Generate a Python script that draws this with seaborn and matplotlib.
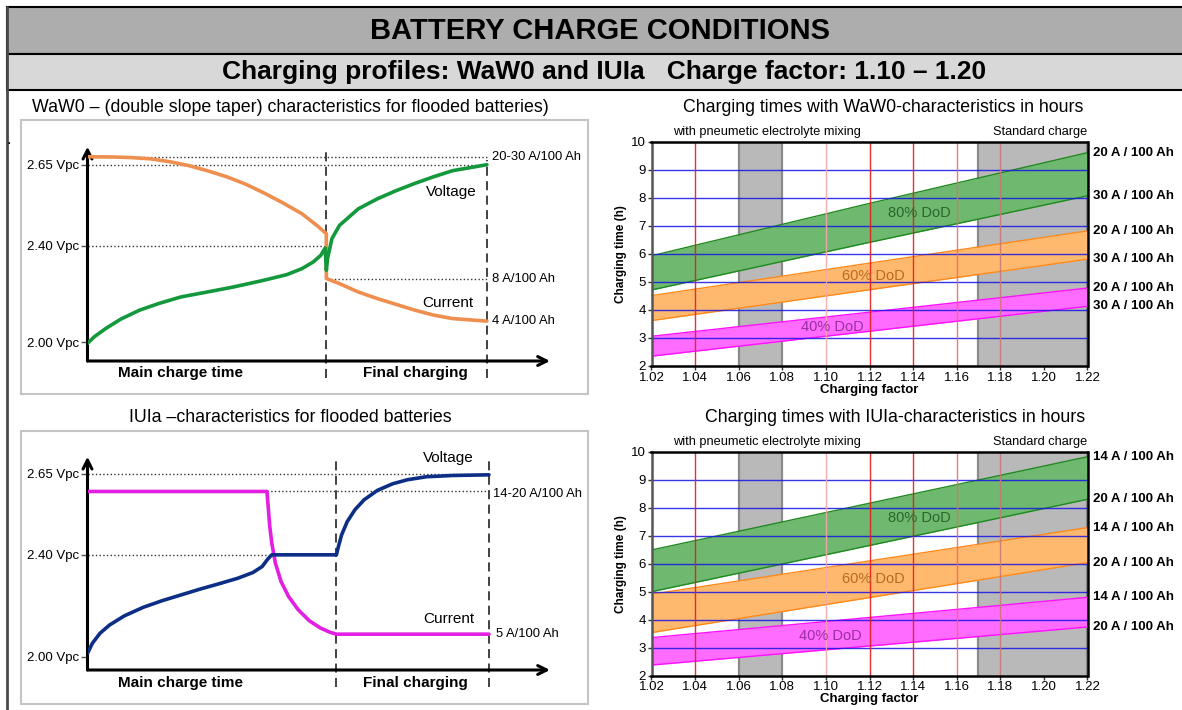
import matplotlib.pyplot as plt
import seaborn as sns
from matplotlib.patches import Rectangle

sns.set_theme(style='white')
plt.rcParams['font.family'] = ['Liberation Sans', 'DejaVu Sans']
plt.rcParams.update({'text.color': 'black', 'axes.labelcolor': 'black',
                     'xtick.color': 'black', 'ytick.color': 'black'})

# ---- schematic curves (time in % of charge, level in % of plot height) ----
waw_t_cur = [0, 6.4, 11.2, 15.9, 20.6, 25.3, 30.0, 34.8, 39.5, 44.2, 48.9, 53.7, 57.4, 59.8,
             59.8, 63.1, 67.8, 72.6, 77.3, 82.0, 86.7, 91.4, 100]
waw_cur = [95.3, 95.2, 94.9, 94.3, 93.0, 91.2, 88.8, 86.0, 82.6, 78.4, 73.8, 68.7, 63.3, 59.4,
           38.5, 36.1, 32.2, 29.1, 26.4, 23.7, 21.4, 19.8, 18.6]
waw_t_volt = [0, 1.7, 4.6, 8.3, 13.0, 17.8, 23.4, 30.0, 36.7, 44.2, 49.9, 53.7, 56.5, 58.4,
              59.5, 59.8, 60.1, 61.2, 63.1, 67.8, 72.6, 77.3, 82.0, 86.7, 91.4, 100]
waw_volt = [8.2, 11.3, 15.2, 19.5, 23.7, 26.8, 29.9, 32.2, 34.6, 37.7, 40.3, 43.1, 46.2, 49.3,
            52.7, 42.3, 47.8, 57.1, 63.3, 71.0, 75.7, 79.5, 82.9, 86.0, 88.8, 91.6]
waw_vpc_levels = [8.8, 53.7, 91.6]

iu_t_cur = [0, 44.7, 45.0, 45.4, 45.9, 46.8, 48.2, 50.1, 52.5, 55.3, 58.1, 60.4, 62, 100]
iu_cur = [83.7, 83.7, 76.7, 67.3, 59.5, 50.1, 41.5, 34.4, 28.2, 23.0, 19.6, 17.7, 16.8, 16.8]
iu_t_volt = [0, 1.2, 3.1, 5.5, 9.2, 13.9, 18.6, 23.3, 28.0, 32.7, 37.4, 41.2, 43.5, 44.9, 45.9,
             62, 62.5, 63.3, 64.7, 66.6, 68.9, 72.2, 76.0, 79.7, 84.4, 91.0, 100]
iu_volt = [7.8, 12.5, 17.2, 21.1, 25.4, 29.4, 32.5, 35.2, 37.9, 40.4, 43.0, 45.7, 48.5, 52.0,
           54.0, 54.0, 57.9, 63.4, 69.6, 75.1, 79.8, 84.2, 87.3, 89.2, 90.6, 91.2, 91.5]
iu_vpc_levels = [6.2, 54.0, 92.0]
vpc_labels = ['2.00 Vpc', '2.40 Vpc', '2.65 Vpc']

# ---- charging time bands (h) vs charging factor ----
factor = [1.02, 1.12, 1.22]
waw_80 = ([5.93, 7.80, 9.61], [4.71, 6.41, 8.07])
waw_60 = ([4.51, 5.67, 6.82], [3.62, 4.72, 5.81])
waw_40 = ([3.06, 3.92, 4.78], [2.35, 3.24, 4.13])
iu_80 = ([6.49, 8.16, 9.82], [5.00, 6.65, 8.30])
iu_60 = ([4.91, 6.10, 7.29], [3.54, 4.79, 6.04])
iu_40 = ([3.36, 4.08, 4.80], [2.38, 3.06, 3.74])
waw_currents = ['20 A / 100 Ah', '30 A / 100 Ah']
iu_currents = ['14 A / 100 Ah', '20 A / 100 Ah']
dod_labels = ['80% DoD', '60% DoD', '40% DoD']
waw_dod_pos = [(1.143, 7.45), (1.122, 5.2), (1.103, 3.4)]
iu_dod_pos = [(1.143, 7.64), (1.122, 5.45), (1.102, 3.42)]
factor_ticks = [1.02, 1.04, 1.06, 1.08, 1.10, 1.12, 1.14, 1.16, 1.18, 1.20, 1.22]
red_lines = [1.04, 1.10, 1.12, 1.14, 1.16, 1.18]
red_colors = ['#e8191a', '#f5a8a8', '#e8191a', '#e8191a', '#f06a6a', '#c87878']
gray_zones = [(1.06, 1.08), (1.17, 1.22)]

W, H = 1182, 710
fig = plt.figure(figsize=(W / 100, H / 100), dpi=100)


def px_rect(x0, y0, x1, y1):
    return [x0 / W, 1 - y1 / H, (x1 - x0) / W, (y1 - y0) / H]


# background frame
bg = fig.add_axes([0, 0, 1, 1], zorder=0)
bg.set_xlim(0, W)
bg.set_ylim(H, 0)
bg.axis('off')
bg.add_patch(Rectangle((7, 7), W, 46.5, fc='#adadad', ec='black', lw=1.5))
bg.add_patch(Rectangle((7, 53.5), W, 36.5, fc='#d8d8d8', ec='black', lw=1.5))
bg.plot([7, 7], [7, H], color='#4a4a4a', lw=2)
bg.text(600, 31, 'BATTERY CHARGE CONDITIONS', ha='center', va='center',
        fontsize=21, fontweight='bold')
bg.text(604, 72, 'Charging profiles: WaW0 and IUIa   Charge factor: 1.10 \u2013 1.20',
        ha='center', va='center', fontsize=19, fontweight='bold')
bg.add_patch(Rectangle((21, 120), 567, 274, fc='white', ec='#c4c4c4', lw=1.5))
bg.add_patch(Rectangle((21, 431), 567, 273, fc='white', ec='#c4c4c4', lw=1.5))
bg.text(290, 108, 'WaW0 \u2013 (double slope taper) characteristics for flooded batteries)',
        ha='center', va='center', fontsize=12.8)
bg.text(290, 418, 'IUIa \u2013characteristics for flooded batteries',
        ha='center', va='center', fontsize=12.8)
bg.text(883, 108, 'Charging times with WaW0-characteristics in hours',
        ha='center', va='center', fontsize=12.8)
bg.text(895, 418, 'Charging times with IUIa-characteristics in hours',
        ha='center', va='center', fontsize=12.8)
bg.text(9, 140, '.', ha='center', va='center', fontsize=12)


def schematic(rect, xmax, vlevels):
    ax = fig.add_axes(rect, zorder=2)
    ax.set_xlim(0, xmax)
    ax.set_ylim(0, 100)
    ax.patch.set_alpha(0)
    for s in ax.spines.values():
        s.set_visible(False)
    arrow = dict(arrowstyle='->', lw=2.2, color='black', mutation_scale=16,
                 shrinkA=0, shrinkB=0)
    ax.annotate('', xy=(1, 0), xytext=(0, 0), xycoords='axes fraction', arrowprops=arrow)
    ax.annotate('', xy=(0, 1), xytext=(0, 0), xycoords='axes fraction', arrowprops=arrow)
    ax.set_xticks([])
    ax.set_yticks(vlevels, vpc_labels)
    ax.tick_params(axis='y', left=True, length=5, width=1, color='#555', pad=1,
                   labelsize=9.5)
    return ax


def schem_text(ax, x, y, s, **kw):
    kw.setdefault('fontsize', 9.4)
    ax.text(x, y, s, va='center', clip_on=False, **kw)


# ---- WaW0 schematic ----
ax = schematic(px_rect(87.5, 146.7, 550, 361), 115.8, waw_vpc_levels)
ax.hlines([95.3, 91.6], 0, 100, colors='#333', linestyles=':', lw=1)
ax.hlines(53.7, 0, 60, colors='#333', linestyles=':', lw=1)
ax.hlines(38.1, 60, 100, colors='#333', linestyles=':', lw=1)
ax.vlines(59.8, -8, 99, colors='#333', linestyles=(0, (5, 3)), lw=1.3, clip_on=False)
ax.vlines(100, -8, 94, colors='#333', linestyles=(0, (5, 3)), lw=1.3, clip_on=False)
sns.lineplot(x=waw_t_cur, y=waw_cur, sort=False, estimator=None, ax=ax,
             color='#ef8f4f', lw=2.6, zorder=3)
sns.lineplot(x=waw_t_volt, y=waw_volt, sort=False, estimator=None, ax=ax,
             color='#13983c', lw=2.6, zorder=4)
schem_text(ax, 101.2, 95.3, '20-30 A/100 Ah')
schem_text(ax, 101.2, 38.1, '8 A/100 Ah')
schem_text(ax, 101.2, 18.6, '4 A/100 Ah')
schem_text(ax, 91.2, 79, 'Voltage', ha='center', fontsize=11)
schem_text(ax, 90.3, 27, 'Current', ha='center', fontsize=11)
schem_text(ax, 23.2, -5.8, 'Main charge time', ha='center', fontsize=11, fontweight='bold')
schem_text(ax, 82.0, -5.8, 'Final charging', ha='center', fontsize=11, fontweight='bold')

# ---- IUIa schematic ----
ax = schematic(px_rect(87.5, 456.7, 550, 670), 115.2, iu_vpc_levels)
ax.hlines(92.0, 0, 100, colors='#333', linestyles=':', lw=1)
ax.hlines(83.7, 44.7, 100, colors='#333', linestyles=':', lw=1)
ax.hlines(54.0, 0, 62, colors='#333', linestyles=':', lw=1)
ax.vlines(62, -7.8, 98.6, colors='#333', linestyles=(0, (5, 3)), lw=1.3, clip_on=False)
ax.vlines(100, -7.8, 98.6, colors='#333', linestyles=(0, (5, 3)), lw=1.3, clip_on=False)
sns.lineplot(x=iu_t_cur, y=iu_cur, sort=False, estimator=None, ax=ax,
             color='#e21fe2', lw=2.6, zorder=3)
sns.lineplot(x=iu_t_volt, y=iu_volt, sort=False, estimator=None, ax=ax,
             color='#0d2e85', lw=2.6, zorder=4)
schem_text(ax, 100.9, 82.6, '14-20 A/100 Ah')
schem_text(ax, 101.7, 16.8, '5 A/100 Ah')
schem_text(ax, 89.9, 99.5, 'Voltage', ha='center', fontsize=11)
schem_text(ax, 89.9, 23.9, 'Current', ha='center', fontsize=11)
schem_text(ax, 23.2, -6.0, 'Main charge time', ha='center', fontsize=11, fontweight='bold')
schem_text(ax, 81.6, -6.0, 'Final charging', ha='center', fontsize=11, fontweight='bold')


# ---- charging time charts ----
def time_chart(rect, bands, currents, dod_pos):
    ax = fig.add_axes(rect, zorder=2)
    ax.set_xlim(1.02, 1.22)
    ax.set_ylim(2, 10)
    for a, b in gray_zones:
        ax.axvspan(a, b, color='#b9b9b9', lw=0, zorder=0)
        ax.axvline(a, color='#8a8a8a', lw=1.6, zorder=0.5)
        ax.axvline(b, color='#8a8a8a', lw=1.6, zorder=0.5)
    styles = [('#6fb86f', '#1f8a1f', '#2a662a'),
              ('#ffb96e', '#ff8a1c', '#b86a22'),
              ('#ff6cff', '#ff10ff', '#9a2e9e')]
    for (hi, lo), (fc, ec, tc), lab, pos in zip(bands, styles, dod_labels, dod_pos):
        ax.fill_between(factor, lo, hi, color=fc, lw=0, zorder=1)
        sns.lineplot(x=factor, y=hi, ax=ax, color=ec, lw=1, zorder=1.5)
        sns.lineplot(x=factor, y=lo, ax=ax, color=ec, lw=1, zorder=1.5)
        ax.text(pos[0], pos[1], lab, ha='center', va='center', fontsize=10.5,
                color=tc, zorder=4)
        for val, cur in zip((hi[-1], lo[-1]), currents):
            ax.annotate(cur, xy=(1.22, val), xytext=(4, 0), textcoords='offset points',
                        va='center', ha='left', fontsize=9.5, fontweight='bold',
                        annotation_clip=False)
    ax.hlines(range(3, 10), 1.02, 1.22, colors='#1414e6', lw=1, alpha=0.85, zorder=2)
    for xv, c in zip(red_lines, red_colors):
        ax.axvline(xv, color=c, lw=1, alpha=0.9, zorder=2)
    ax.text(1.073, 10.35, 'with pneumetic electrolyte mixing', ha='center', va='center',
            fontsize=9.2)
    ax.text(1.22, 10.35, 'Standard charge', ha='right', va='center', fontsize=9.2)
    ax.set_xticks(factor_ticks, [f'{v:.2f}' for v in factor_ticks])
    ax.set_yticks(range(2, 11))
    ax.tick_params(direction='out', length=3, width=1, labelsize=9.5, pad=1,
                   bottom=True, left=True, color='#333')
    for side, s in ax.spines.items():
        s.set_visible(True)
        s.set_color('#555' if side == 'left' else 'black')
        s.set_linewidth(1.8)
    ax.set_xlabel('Charging factor', fontsize=9.5, fontweight='bold', labelpad=0)
    ax.set_ylabel('Charging time (h)', fontsize=8.5, fontweight='bold', labelpad=3)
    return ax


time_chart(px_rect(651.5, 141.7, 1087.5, 366), [waw_80, waw_60, waw_40],
           waw_currents, waw_dod_pos)
time_chart(px_rect(651.5, 451.7, 1087.5, 675.7), [iu_80, iu_60, iu_40],
           iu_currents, iu_dod_pos)

fig.savefig('out.png', dpi=100)
